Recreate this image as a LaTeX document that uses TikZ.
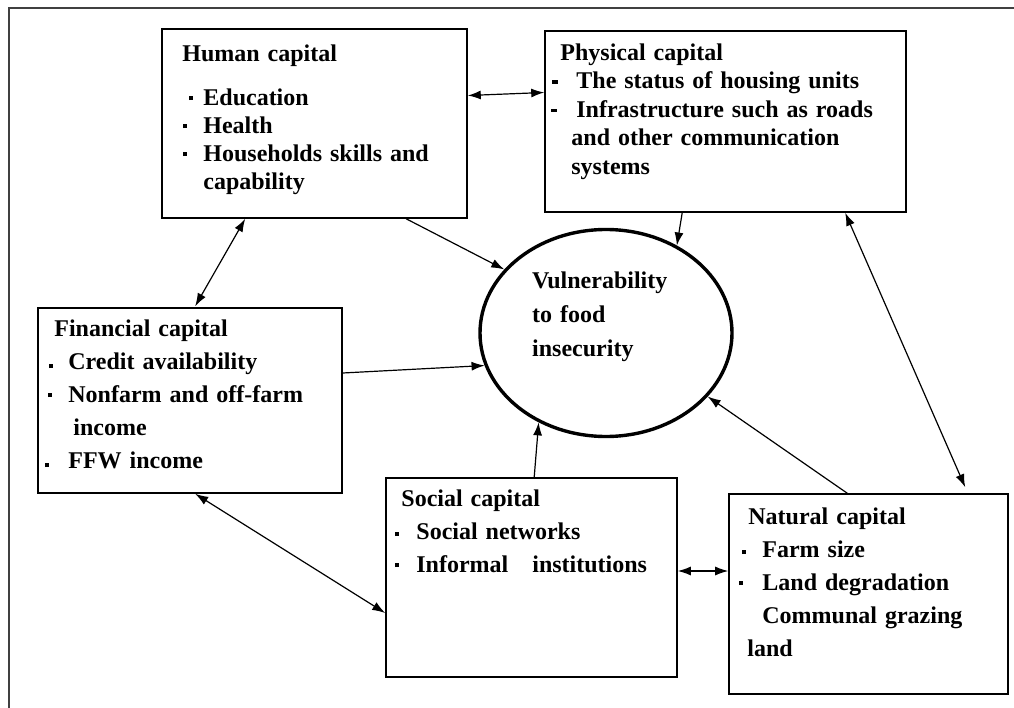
\documentclass[tikz,border=0pt]{standalone}
\usepackage{fontspec}
\setmainfont{Liberation Serif}
\usetikzlibrary{shapes.geometric,arrows.meta}

\newcommand{\dotmk}[3]{\makebox[#2pt][l]{\hspace*{#1pt}\raisebox{#3pt}{\rule{4pt}{4pt}}}}
\newcommand{\dashmk}[3]{\makebox[#2pt][l]{\hspace*{#1pt}\raisebox{#3pt}{\rule{6pt}{3.5pt}}}}

\tikzset{
  capbox/.style={draw, line width=1.6pt, inner sep=0pt},
  captxt/.style={anchor=base west, inner sep=0pt, text width=420pt, align=left,
    font=\bfseries\fontsize{24}{#1}\selectfont},
  oneway/.style={line width=1.2pt, -{Latex[length=13pt,width=9pt]}},
  twoway/.style={line width=1.2pt, {Latex[length=13pt,width=9pt]}-{Latex[length=13pt,width=9pt]}}
}

\begin{document}
\begin{tikzpicture}[x=1pt,y=-1pt]
    \clip (0,0) rectangle (1014,708);
    \draw[line width=2.5pt, black!75] (9,8) rectangle (1040,740);

    \node[capbox, minimum width=305pt, minimum height=189pt] (human) at (314.5,123.5) {};
    \node[capbox, minimum width=361pt, minimum height=181pt] (physical) at (725.5,121.5) {};
    \node[capbox, minimum width=304pt, minimum height=185pt] (financial) at (190,400.5) {};
    \node[capbox, minimum width=291pt, minimum height=199pt] (social) at (531.5,577.5) {};
    \node[capbox, minimum width=279pt, minimum height=200pt] (natural) at (868.5,594) {};
    \node[draw, ellipse, line width=3.4pt, minimum width=252pt, minimum height=207pt] (vul) at (606,333) {};

    \node[captxt=28] (humantxt) at ([shift={(21,33)}]human.north west)
      {Human capital\\[16pt]
       \dotmk{7}{21}{5}Education\\
       \dotmk{1}{21}{5}Health\\
       \dotmk{1}{21}{5}Households skills and\\
       \hspace*{21pt}capability};
    \node[captxt=28.5] (physicaltxt) at ([shift={(7,30)}]physical.north west)
      {\hspace*{9pt}Physical capital\\
       \dashmk{1}{25}{5}The status of housing units\\
       \dashmk{0}{25}{5}Infrastructure such as roads\\
       \hspace*{20pt}and other communication\\
       \hspace*{20pt}systems};
    \node[captxt=33] (financialtxt) at ([shift={(8,29)}]financial.north west)
      {\hspace*{9pt}Financial capital\\
       \dotmk{4}{23}{1}Credit availability\\
       \dotmk{3}{23}{5}Nonfarm and off-farm\\
       \hspace*{28pt}income\\
       \dotmk{0}{23}{1}FFW income};
    \node[captxt=33] (socialtxt) at ([shift={(10,29)}]social.north west)
      {\hspace*{6pt}Social capital\\
       \dotmk{0}{21}{3}Social networks\\
       \dotmk{0}{21}{5}Informal\hspace{16pt} institutions};
    \node[captxt=33] (naturaltxt) at ([shift={(11,31)}]natural.north west)
      {\hspace*{9pt}Natural capital\\
       \dotmk{3}{23}{3}Farm size\\
       \dotmk{0}{23}{5}Land degradation\\
       \hspace*{23pt}Communal grazing\\
       \hspace*{8pt}land};
    \node[captxt=34] (vultxt) at ([shift={(-74,-44)}]vul.center)
      {Vulnerability\\to food\\insecurity};

    \draw[twoway] ([yshift=28pt]human.east) -- ([yshift=29pt]physical.west);
    \draw[oneway] ([xshift=245pt]human.south west) -- (vul.148);
    \draw[oneway] ([xshift=138pt]physical.south west) -- (vul.51);
    \draw[twoway] ([xshift=84pt]human.south west) -- ([xshift=158pt,yshift=1pt]financial.north west);
    \draw[oneway] ([yshift=27.5pt]financial.east) -- (vul.195);
    \draw[twoway] ([xshift=158pt]financial.south west) -- ([yshift=-35.5pt]social.west);
    \draw[oneway] ([xshift=149pt]social.north west) -- (vul.-127);
    \draw[twoway] ([yshift=6.5pt]social.east) -- ([yshift=6.5pt]social.east -| natural.west);
    \draw[oneway] ([xshift=119pt]natural.north west) -- (vul.-32);
    \draw[twoway] ([xshift=301pt]physical.south west) -- ([xshift=237pt,yshift=6pt]natural.north west);
\end{tikzpicture}
\end{document}
